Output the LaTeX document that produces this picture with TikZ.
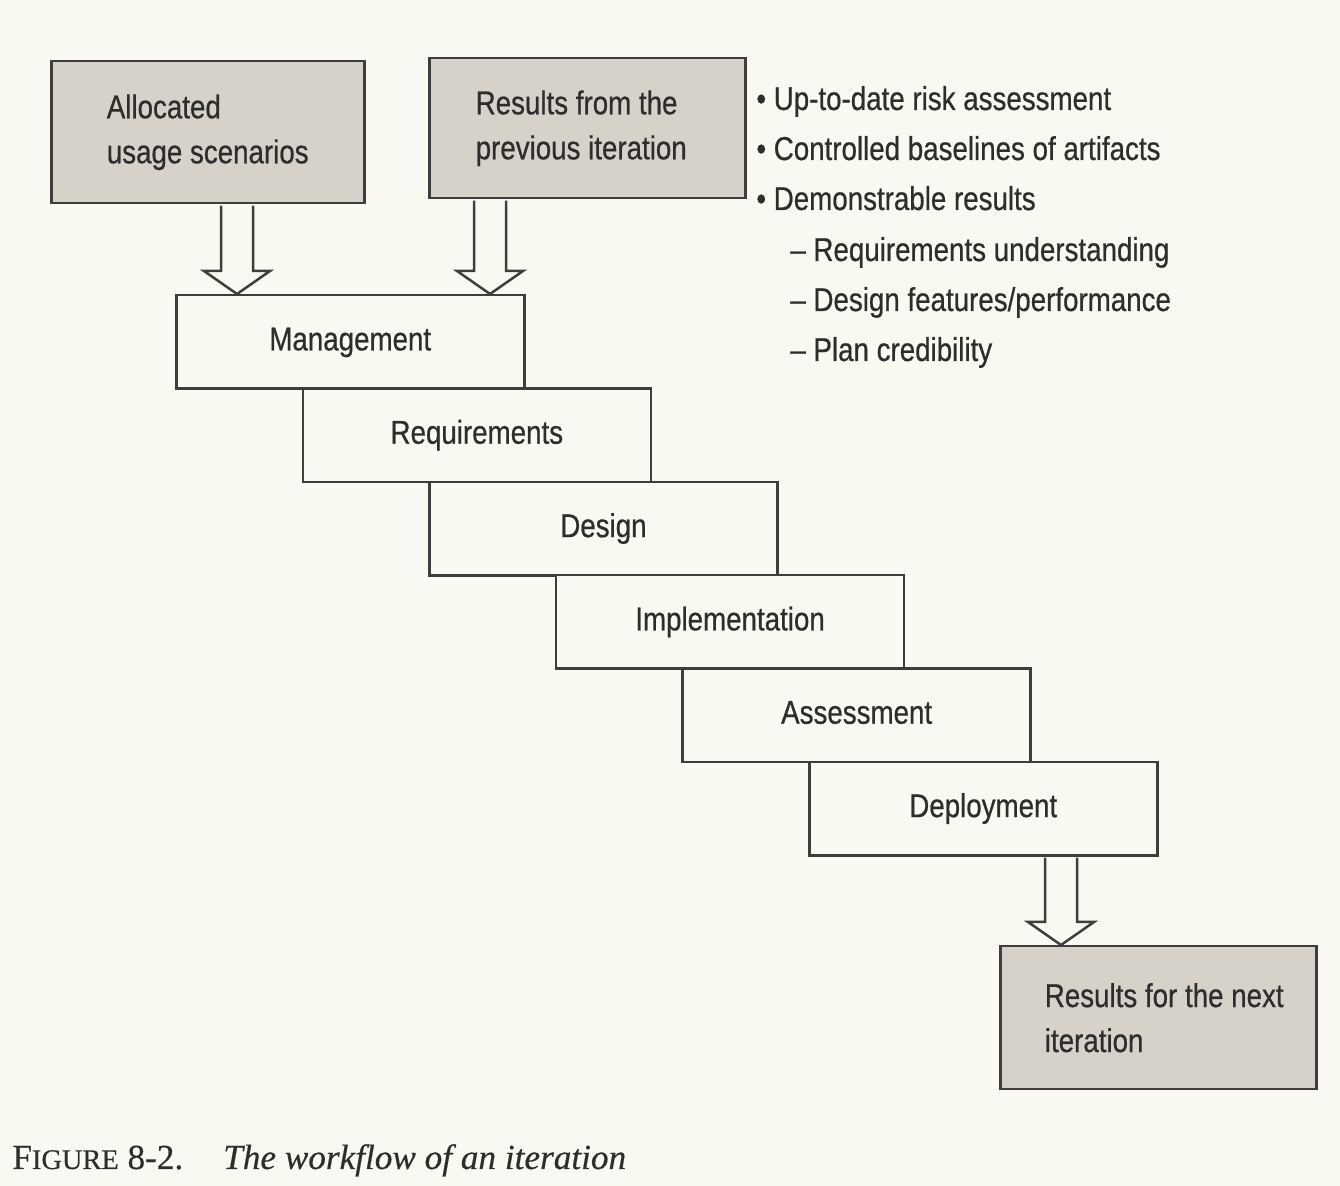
\documentclass[tikz,border=0pt]{standalone}
\usepackage{fontspec}
\newfontfamily\diagfont{Liberation Sans}[FakeStretch=0.84,FakeBold=0.6]
\newfontfamily\capfont{Liberation Serif}[FakeBold=0.4]
\usetikzlibrary{calc}
\definecolor{paper}{RGB}{250,249,241}
\definecolor{boxgray}{RGB}{214,210,201}
\definecolor{ink}{RGB}{62,62,62}
\definecolor{txt}{RGB}{45,45,45}
\tikzset{
  stepbox/.style={draw=ink, line width=1.25pt, fill=paper, minimum width=174pt,
    minimum height=46.67pt, anchor=north west, inner sep=0pt,
    font=\diagfont\fontsize{16.5}{20}\selectfont, text=txt,
    text height=12.5pt, text depth=4pt},
  graybox/.style={draw=ink, line width=1.25pt, fill=boxgray, anchor=north west,
    inner sep=0pt, align=left, font=\diagfont\fontsize{16.5}{22.5}\selectfont, text=txt},
  listitem/.style={anchor=base west, inner sep=0pt,
    font=\diagfont\fontsize{16.5}{20}\selectfont, text=txt},
  harrow/.style={draw=ink, line width=1.25pt, fill=paper, line join=miter},
}
\newcommand\hollowarrow[2]{%
  \draw[harrow] let \p1=(#1), \p2=(#2) in
    (\x1-8pt,\y1-0.6pt) -- (\x1-8pt,\y2+11.5pt) -- (\x1-16.5pt,\y2+11.5pt) --
    (\x1,\y2) -- (\x1+16.5pt,\y2+11.5pt) -- (\x1+8pt,\y2+11.5pt) -- (\x1+8pt,\y1-0.6pt);}
\begin{document}
\begin{tikzpicture}[x=0.5pt,y=-0.5pt]
  \fill[paper] (0,0) rectangle (1340,1186);
  \useasboundingbox (0,0) rectangle (1340,1186);

  % input boxes
  \node[graybox, minimum width=156.5pt, minimum height=71pt] (alloc) at (50,60)
    {Allocated\\usage scenarios};
  \node[graybox, minimum width=158pt, minimum height=70pt] (prev) at (428,57)
    {Results from the\\previous iteration\hspace*{6pt}};

  % bullet list
  \node[listitem] (l1) at (756,110) {\textbullet\ Up-to-date risk assessment};
  \node[listitem] (l2) at (756,160) {\textbullet\ Controlled baselines of artifacts};
  \node[listitem] (l3) at (756,210) {\textbullet\ Demonstrable results};
  \node[listitem] (l4) at (790,261) {\textendash\ Requirements understanding};
  \node[listitem] (l5) at (790,311) {\textendash\ Design features/performance};
  \node[listitem] (l6) at (790,361) {\textendash\ Plan credibility};

  % staircase of activities
  \node[stepbox] (mgmt)   at (175,294)   {Management};
  \node[stepbox] (req)    at (301.6,387.3) {Requirements};
  \node[stepbox] (design) at (428.2,480.7) {Design};
  \node[stepbox] (impl)   at (554.8,574)   {Implementation};
  \node[stepbox] (assess) at (681.4,667.3) {Assessment};
  \node[stepbox] (deploy) at (808,760.7)   {Deployment};

  % output box
  \node[graybox, minimum width=158pt, minimum height=71.5pt] (next) at (999,945)
    {\hspace*{6pt}Results for the next\\\hspace*{6pt}iteration};

  % hollow arrows
  \coordinate (c1) at (237,0);
  \coordinate (c2) at (490,0);
  \coordinate (c3) at (1061,0);
  \hollowarrow{c1 |- alloc.south}{c1 |- mgmt.north}
  \hollowarrow{c2 |- prev.south}{c2 |- mgmt.north}
  \hollowarrow{c3 |- deploy.south}{c3 |- next.north}

  % caption
  \node[anchor=base west, inner sep=0pt, text=txt, font=\capfont\fontsize{17.6}{20}\selectfont]
    (caption) at (12,1169)
    {F{\fontsize{14.2}{16}\selectfont IGURE} 8-2.\hspace{20pt}\textit{The workflow of an iteration}};
\end{tikzpicture}
\end{document}
